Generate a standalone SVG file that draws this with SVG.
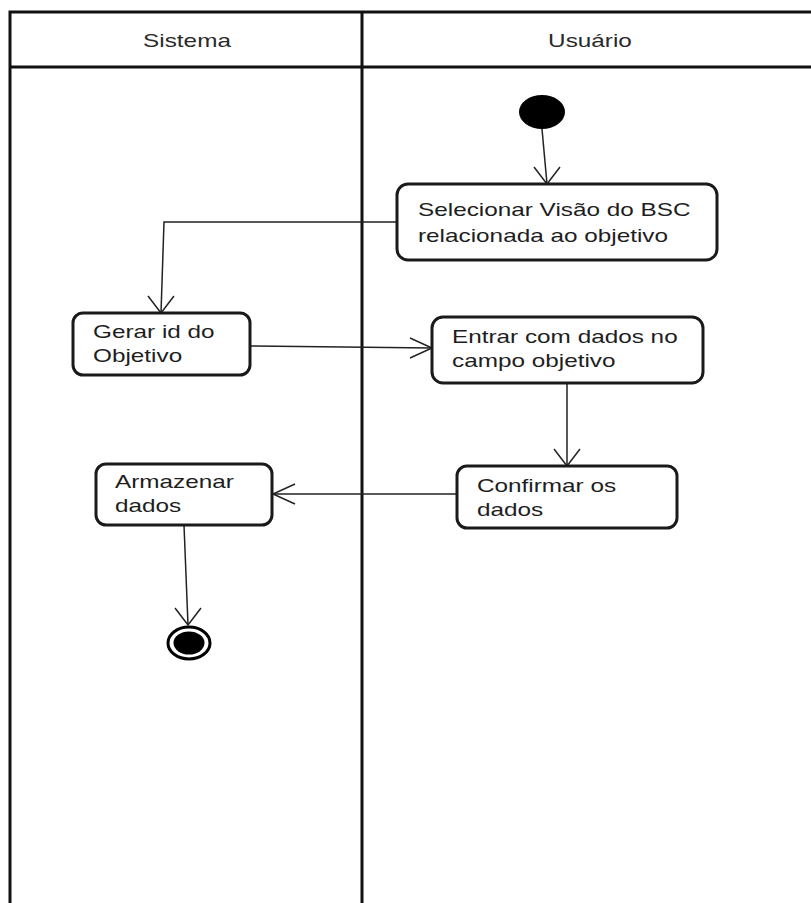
<svg xmlns="http://www.w3.org/2000/svg" width="811" height="903" viewBox="0 0 811 903">
  <style>
    .lane { fill: none; stroke: #111; stroke-width: 3; }
    .head { font-family: "Liberation Sans", Arial, sans-serif; font-size: 19px; fill: #2a2a2a; text-anchor: middle; }
    .box { fill: #fff; stroke: #1a1a1a; stroke-width: 3; }
    .lbl { font-family: "Liberation Sans", Arial, sans-serif; font-size: 19px; fill: #1e1e1e; }
    .edge { fill: none; stroke: #222; stroke-width: 1.5; }
    .tip { fill: none; stroke: #222; stroke-width: 1.5; }
  </style>
  <defs>
    <!-- open arrowheads, drawn per direction (wide horizontally) -->
    <marker id="down" markerUnits="userSpaceOnUse" markerWidth="30" markerHeight="20" viewBox="-15 -19 30 20" refX="0" refY="0" orient="0">
      <path class="tip" d="M-13,-17 L0,0 L13,-17"/>
    </marker>
    <marker id="right" markerUnits="userSpaceOnUse" markerWidth="26" markerHeight="24" viewBox="-24 -12 26 24" refX="0" refY="0" orient="0">
      <path class="tip" d="M-22,-10 L0,0 L-22,10"/>
    </marker>
    <marker id="left" markerUnits="userSpaceOnUse" markerWidth="26" markerHeight="24" viewBox="-2 -12 26 24" refX="0" refY="0" orient="0">
      <path class="tip" d="M22,-10 L0,0 L22,10"/>
    </marker>
  </defs>
  <rect width="811" height="903" fill="#fff"/>

  <!-- swimlanes -->
  <g id="lanes">
    <path class="lane" d="M811,12 H10 V903 M10,67 H811 M362,12 V903"/>
    <text class="head" transform="translate(187,47) scale(1.28,1)">Sistema</text>
    <text class="head" transform="translate(590,47) scale(1.28,1)">Usuário</text>
  </g>

  <!-- connectors -->
  <g id="edges">
    <path class="edge" d="M542,129 L547,184" marker-end="url(#down)"/>
    <path class="edge" d="M397,222 H164 L161,313" marker-end="url(#down)"/>
    <path class="edge" d="M250,346 L432,348" marker-end="url(#right)"/>
    <path class="edge" d="M567,383 V466" marker-end="url(#down)"/>
    <path class="edge" d="M457,494 H273" marker-end="url(#left)"/>
    <path class="edge" d="M184,525 L188,625" marker-end="url(#down)"/>
  </g>

  <g id="start">
    <ellipse cx="542" cy="112" rx="23" ry="17" fill="#000"/>
  </g>

  <g id="selecionar">
    <rect class="box" x="397" y="184" width="320" height="76" rx="11"/>
    <text class="lbl" transform="translate(418,216) scale(1.28,1)">Selecionar Visão do BSC</text>
    <text class="lbl" transform="translate(418,242) scale(1.28,1)">relacionada ao objetivo</text>
  </g>

  <g id="gerar">
    <rect class="box" x="73" y="313" width="177" height="62" rx="10"/>
    <text class="lbl" transform="translate(93,338) scale(1.28,1)">Gerar id do</text>
    <text class="lbl" transform="translate(93,362) scale(1.28,1)">Objetivo</text>
  </g>

  <g id="entrar">
    <rect class="box" x="432" y="317" width="271" height="66" rx="11"/>
    <text class="lbl" transform="translate(452,343) scale(1.28,1)">Entrar com dados no</text>
    <text class="lbl" transform="translate(452,367) scale(1.28,1)">campo objetivo</text>
  </g>

  <g id="confirmar">
    <rect class="box" x="457" y="466" width="220" height="62" rx="10"/>
    <text class="lbl" transform="translate(477,492) scale(1.28,1)">Confirmar os</text>
    <text class="lbl" transform="translate(477,516) scale(1.28,1)">dados</text>
  </g>

  <g id="armazenar">
    <rect class="box" x="96" y="464" width="176" height="61" rx="10"/>
    <text class="lbl" transform="translate(115,488) scale(1.28,1)">Armazenar</text>
    <text class="lbl" transform="translate(115,512) scale(1.28,1)">dados</text>
  </g>

  <g id="end">
    <ellipse cx="189" cy="643" rx="21" ry="16" fill="#fff" stroke="#000" stroke-width="3"/>
    <ellipse cx="189" cy="643" rx="15.5" ry="11.5" fill="#000"/>
  </g>
</svg>
